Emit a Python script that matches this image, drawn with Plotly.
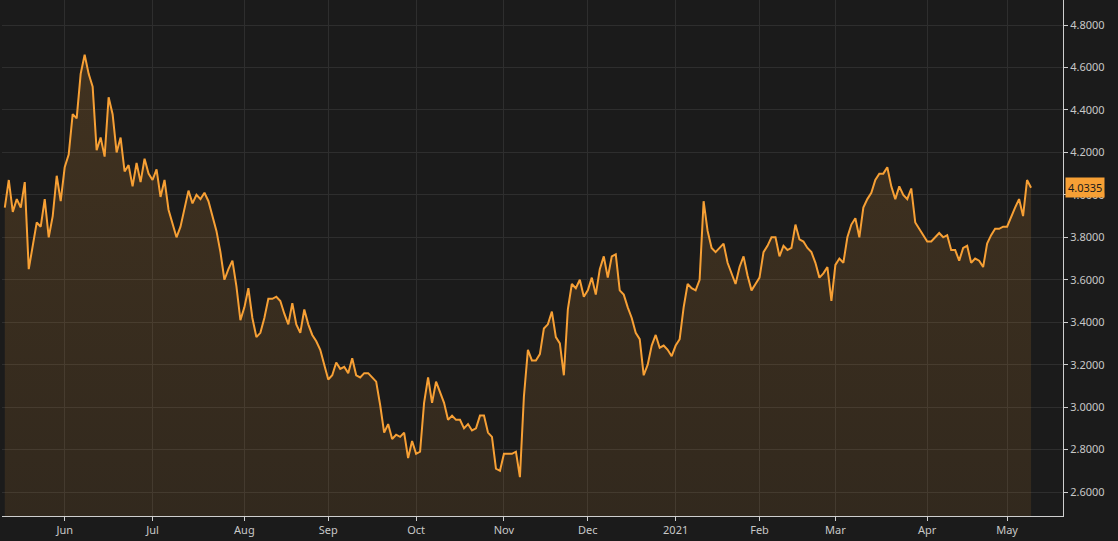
import plotly.graph_objects as go

values = [3.94,4.07,3.92,3.98,3.94,4.06,3.65,3.77,3.87,3.85,3.98,3.80,3.90,4.09,3.97,4.13,4.19,4.38,4.36,4.57,
4.66,4.57,4.51,4.21,4.27,4.18,4.46,4.38,4.20,4.27,4.11,4.14,4.04,4.15,4.06,4.17,4.10,4.07,4.12,3.99,
4.07,3.93,3.86,3.80,3.85,3.94,4.02,3.96,4.00,3.98,4.01,3.97,3.90,3.83,3.73,3.60,3.65,3.69,3.57,3.41,
3.47,3.56,3.42,3.33,3.35,3.42,3.51,3.51,3.52,3.50,3.44,3.39,3.49,3.39,3.35,3.46,3.39,3.34,3.31,3.27,
3.20,3.13,3.15,3.21,3.18,3.19,3.16,3.23,3.15,3.14,3.16,3.16,3.14,3.12,3.01,2.88,2.92,2.85,2.87,2.86,
2.88,2.76,2.84,2.78,2.79,3.02,3.14,3.02,3.12,3.07,3.02,2.94,2.96,2.94,2.94,2.90,2.92,2.89,2.90,2.96,
2.96,2.88,2.86,2.71,2.70,2.78,2.78,2.78,2.79,2.67,3.05,3.27,3.22,3.22,3.25,3.37,3.39,3.45,3.33,3.30,
3.15,3.46,3.58,3.56,3.60,3.52,3.55,3.61,3.53,3.65,3.71,3.61,3.71,3.72,3.55,3.53,3.47,3.42,3.35,3.32,
3.15,3.20,3.29,3.34,3.28,3.29,3.27,3.24,3.29,3.32,3.47,3.58,3.56,3.55,3.60,3.97,3.83,3.75,3.73,3.75,
3.77,3.68,3.63,3.58,3.66,3.71,3.62,3.55,3.58,3.61,3.73,3.76,3.80,3.80,3.71,3.76,3.74,3.75,3.86,3.79,
3.78,3.75,3.73,3.68,3.61,3.63,3.66,3.50,3.67,3.70,3.68,3.80,3.86,3.89,3.80,3.94,3.98,4.01,4.07,4.10,
4.10,4.13,4.04,3.98,4.04,4.00,3.98,4.03,3.87,3.84,3.81,3.78,3.78,3.80,3.82,3.80,3.81,3.74,3.74,3.69,
3.75,3.76,3.68,3.70,3.69,3.66,3.77,3.81,3.84,3.84,3.85,3.85,3.90,3.94,3.98,3.90,4.07,4.0335]
tick_pos = [15,37,60,81,103,125,146,168,189,208,231,251]
tick_text = ["Jun","Jul","Aug","Sep","Oct","Nov","Dec","2021","Feb","Mar","Apr","May"]
y_ticks = [2.6,2.8,3.0,3.2,3.4,3.6,3.8,4.0,4.2,4.4,4.6,4.8]
last_label = "4.0335"

x = list(range(len(values)))
fig = go.Figure(go.Scatter(
    x=x, y=values, mode="lines", line=dict(color="#f7a035", width=2),
    fill="tozeroy",
    fillgradient=dict(type="vertical", colorscale=[[0, "rgba(247,160,53,0.03)"], [1, "rgba(247,160,53,0.17)"]]),
    hoverinfo="skip"))
fig.update_layout(
    width=1118, height=541, margin=dict(l=2, r=55, t=0, b=25),
    paper_bgcolor="#1b1b1b", plot_bgcolor="#1b1b1b", showlegend=False,
    font=dict(family="Noto Sans, sans-serif", color="#c8c8c8", size=11),
    xaxis=dict(range=[-0.7, 265], tickvals=tick_pos, ticktext=tick_text,
               showgrid=True, gridcolor="#2e2e2e", gridwidth=1, zeroline=False,
               showline=True, linecolor="#cfcfcf", ticks="outside", ticklen=4, tickcolor="#cfcfcf"),
    yaxis=dict(range=[2.487, 4.918], side="right", tickvals=y_ticks,
               ticktext=[f"{v:.4f}" for v in y_ticks], showgrid=True, gridcolor="#2e2e2e",
               zeroline=False, showline=True, linecolor="#cfcfcf", ticks="outside", ticklen=4,
               tickcolor="#cfcfcf"),
)
fig.add_annotation(x=1, xref="paper", y=values[-1], yref="y", text=last_label, showarrow=False,
                   xanchor="left", xshift=2, bgcolor="#f7a035", font=dict(color="#1b1b1b", size=11),
                   borderpad=2)
fig.write_html("out.html", config={"displayModeBar": False},
               post_script="document.body.style.margin='0';document.body.style.background='#1b1b1b';")
